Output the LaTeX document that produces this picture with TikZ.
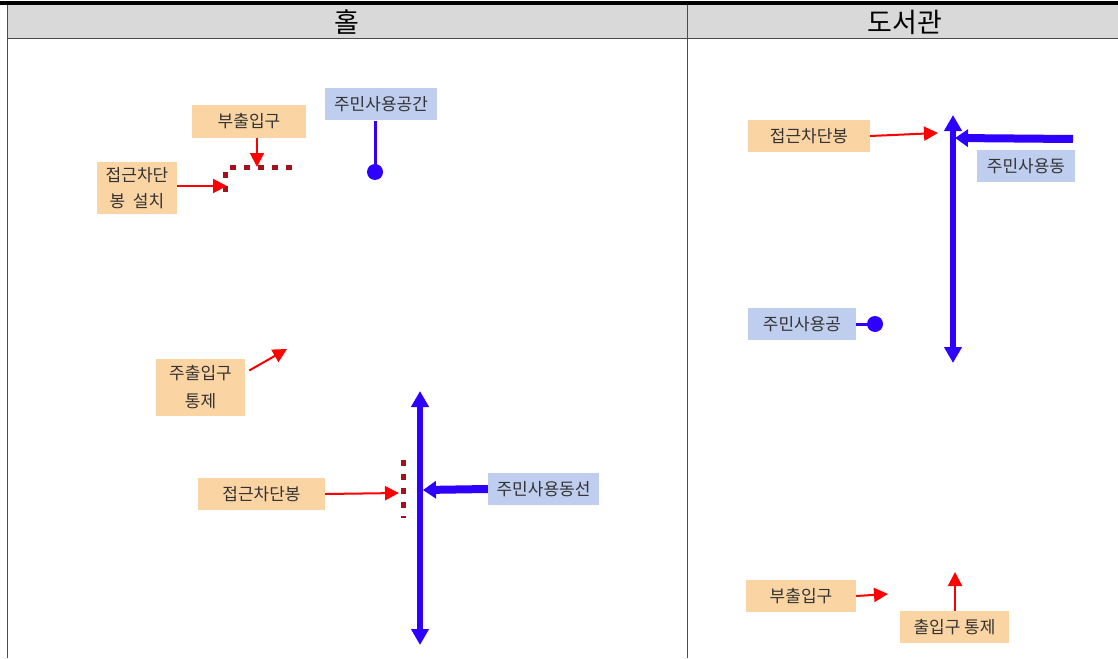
\documentclass[tikz,border=0pt]{standalone}
\usepackage{fontspec}
\setmainfont{Noto Sans CJK KR}
\usetikzlibrary{arrows.meta,positioning}

\definecolor{notefill}{HTML}{FBD4A3}
\definecolor{userfill}{HTML}{BFCDEE}
\definecolor{headfill}{HTML}{D9D9D9}
\definecolor{flowblue}{HTML}{2E00FF}
\definecolor{barred}{HTML}{A5101E}

\begin{document}
\begin{tikzpicture}[
    x=1pt, y=-1pt,
    >=Triangle,
    every node/.style={font=\fontsize{17}{24}\selectfont, text=black!80},
    note/.style={fill=notefill, inner sep=0pt, minimum height=32pt, align=center},
    user/.style={fill=userfill, inner sep=0pt, minimum height=32pt},
    head/.style={font=\fontsize{27}{27}\selectfont, text=black},
    redarrow/.style={-{Triangle[length=14pt,width=14pt]}, red, line width=2pt},
    twoway/.style={{Triangle[length=16pt,width=17pt]}-{Triangle[length=16pt,width=17pt]}, flowblue, line width=6pt},
    inflow/.style={-{Triangle[length=13pt,width=17pt]}, flowblue, line width=8pt},
    pin/.style={flowblue, line width=3pt},
    barline/.style={barred, line width=5pt, dash pattern=on 6pt off 8pt},
]
  \useasboundingbox (0,0) rectangle (1118,658);

  % table frame and header
  \fill[headfill] (7,5) rectangle (1118,38);
  \draw[line width=4pt] (0,3) -- (1118,3);
  \draw[black!70] (7,38.5) -- (1118,38.5);
  \draw[black!70] (7,5) -- (7,658);
  \draw[black!70] (687,5) -- (687,658);
  \node[head] (hallhead) at (347,22) {홀};
  \node[head] (libhead) at (905,22) {도서관};

  % hall (left column)
  \node[note, minimum width=114pt] (subgate) at (249,121.5) {부출입구};
  \node[user, minimum width=112pt] (hallspace) at (381,104.5) {주민사용공간};
  \node[note, minimum width=80pt, minimum height=52pt, font=\fontsize{17}{26}\selectfont] (barnote) at (137,188) {접근차단\\봉\ \ 설치};
  \node[note, minimum width=89pt, minimum height=57pt, font=\fontsize{17}{28}\selectfont] (maingate) at (200.5,387.5) {주출입구\\통제};
  \node[note, minimum width=127pt] (hallbar) at (261.5,494) {접근차단봉};
  \node[user, minimum width=111pt] (hallflow) at (543.5,489) {주민사용동선};

  \coordinate (subbar) at (257,167);
  \coordinate (sidebar) at (227,186);
  \coordinate (hallpin) at (375,172);
  \coordinate (maintip) at (287,349);
  \coordinate (halltop) at (420,391);
  \coordinate (hallbot) at (420,645);
  \coordinate (hallstop) at (399,493);
  \coordinate (hallin) at (423,490);

  \draw[barline] (230,167) -- (292,167);
  \draw[barline] (225,172) -- (225,193);
  \draw[barline] (403,460) -- (403,518);

  \draw[redarrow] (subgate.south -| subbar) -- (subbar);
  \draw[redarrow] (barnote.east |- sidebar) -- (sidebar);
  \draw[redarrow] ([shift={(4,-17)}]maingate.east) -- (maintip);
  \draw[redarrow] (hallbar.east) -- (hallstop);
  \draw[pin] (hallspace.south -| hallpin) -- (hallpin);
  \fill[flowblue] (hallpin) circle (8);
  \draw[twoway] (halltop) -- (hallbot);
  \draw[inflow] (hallflow.west) -- (hallin);

  % library (right column)
  \node[note, minimum width=122pt] (libbar) at (809,136) {접근차단봉};
  \node[user, minimum width=98pt] (libflow) at (1026,166) {주민사용동};
  \node[user, minimum width=108pt] (libspace) at (802,324) {주민사용공};
  \node[note, minimum width=110pt] (libsub) at (801,596) {부출입구};
  \node[note, minimum width=109pt] (libgate) at (954.5,627) {출입구 통제};

  \coordinate (libstop) at (938,133);
  \coordinate (libtop) at (953,115);
  \coordinate (libbot) at (953,363);
  \coordinate (libin) at (955,138);
  \coordinate (libend) at (1073,139);
  \coordinate (libpin) at (875,324);
  \coordinate (subtip) at (888,594);
  \coordinate (gatetip) at (955,572);

  \draw[redarrow] (libbar.east) -- (libstop);
  \draw[twoway] (libtop) -- (libbot);
  \draw[inflow] (libend) -- (libin);
  \draw[pin] (libspace.east) -- (libpin);
  \fill[flowblue] (libpin) circle (8);
  \draw[redarrow] (libsub.east) -- (subtip);
  \draw[redarrow] (libgate.north -| gatetip) -- (gatetip);
\end{tikzpicture}
\end{document}
